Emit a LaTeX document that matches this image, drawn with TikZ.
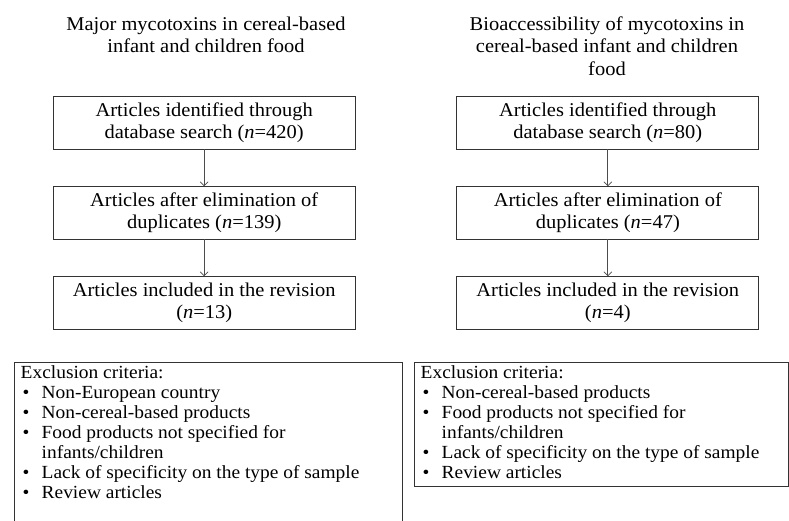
\documentclass[tikz,border=0pt]{standalone}
\usepackage{fontspec}
\setmainfont{Liberation Serif}[FakeStretch=1.05]
\usetikzlibrary{arrows.meta}
\begin{document}
\begin{tikzpicture}[x=1pt,y=-1pt,
  flowbox/.style={draw=black!80, line width=0.8pt, minimum width=302pt, minimum height=52.3pt, inner sep=0pt, align=center, font=\fontsize{19.5}{21.7}\selectfont},
  titletext/.style={align=center, anchor=north, inner sep=0pt, font=\fontsize{19.5}{22.5}\selectfont},
  flowarrow/.style={draw=black!70, line width=0.7pt, -{Straight Barb[length=4pt,width=8pt]}},
  exbox/.style={draw=black!80, line width=0.8pt, anchor=north west, inner sep=0pt},
  extext/.style={align=left, anchor=north west, inner sep=0pt, font=\fontsize{18.5}{20}\selectfont}
]
\useasboundingbox (0,0) rectangle (789,521);
\fill[white] (0,0) rectangle (789,521);
\clip (0,0) rectangle (789,521);

% titles
\node[titletext] (tL) at (206,16.5) {Major mycotoxins in cereal-based\\infant and children food};
\node[titletext] (tR) at (607,16.5) {Bioaccessibility of mycotoxins in\\cereal-based infant and children\\food};

% left flow
\node[flowbox] (L1) at (204.2,122.8) {Articles identified through\\database search (\textit{n}=420)};
\node[flowbox] (L2) at (204.2,212.8) {Articles after elimination of\\duplicates (\textit{n}=139)};
\node[flowbox] (L3) at (204.2,302.8) {Articles included in the revision\\(\textit{n}=13)};
\draw[flowarrow] (L1) -- (L2);
\draw[flowarrow] (L2) -- (L3);

% right flow
\node[flowbox] (R1) at (607.8,122.8) {Articles identified through\\database search (\textit{n}=80)};
\node[flowbox] (R2) at (607.8,212.8) {Articles after elimination of\\duplicates (\textit{n}=47)};
\node[flowbox] (R3) at (607.8,302.8) {Articles included in the revision\\(\textit{n}=4)};
\draw[flowarrow] (R1) -- (R2);
\draw[flowarrow] (R2) -- (R3);

% exclusion boxes
\node[exbox, minimum width=387.4pt, minimum height=200pt] (exL) at (14.3,361.7) {};
\node[exbox, minimum width=374pt, minimum height=124pt] (exR) at (414.3,361.7) {};

\newcommand{\bul}{\makebox[21pt][l]{\hspace{2pt}\textbullet}}
\newcommand{\cont}{\hspace*{21pt}}
\node[extext] (exLt) at (20.5,365) {Exclusion criteria:\\
\bul Non-European country\\
\bul Non-cereal-based products\\
\bul Food products not specified for\\
\cont infants/children\\
\bul Lack of specificity on the type of sample\\
\bul Review articles};
\node[extext] (exRt) at (420.5,365) {Exclusion criteria:\\
\bul Non-cereal-based products\\
\bul Food products not specified for\\
\cont infants/children\\
\bul Lack of specificity on the type of sample\\
\bul Review articles};
\end{tikzpicture}
\end{document}
